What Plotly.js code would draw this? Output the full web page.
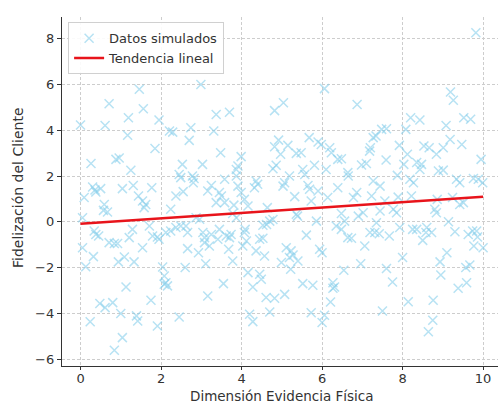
<!DOCTYPE html>
<html>
<head>
<meta charset="utf-8">
<script src="https://cdn.plot.ly/plotly-3.0.1.min.js"></script>
<style>html,body{margin:0;padding:0;background:#fff;}#chart{width:498px;height:404px;}</style>
</head>
<body>
<div id="chart"></div>
<script>
// Simulated data
const simX = [
1.46,2.99,0.71,1.56,1.19,1.95,0.0,0.61,2.21,2.29,2.74,1.17,2.7,1.85,0.26,0.88,0.96,1.25,2.53,3.03,
2.45,2.49,2.78,2.82,2.8,3.16,2.37,2.55,0.3,0.36,0.5,0.38,1.04,1.31,1.77,0.09,0.59,0.57,0.67,1.44,
1.54,1.62,1.58,2.24,0.05,2.87,2.96,
0.34,0.38,0.45,0.05,0.32,0.71,0.84,0.92,1.29,1.21,1.54,0.94,1.09,1.33,0.13,1.71,1.79,1.95,1.91,2.12,
2.24,2.37,2.49,2.66,2.62,2.66,2.93,3.11,2.04,2.08,2.12,2.08,2.16,2.6,3.16,1.13,1.75,0.48,0.61,0.8,
1.0,1.39,1.42,0.24,1.91,2.45,1.04,0.84,
6.06,4.82,5.04,3.37,3.70,3.31,3.48,3.99,3.91,3.87,4.82,4.92,4.97,5.15,5.36,5.48,4.78,4.86,5.19,5.07,
5.03,5.52,5.57,5.81,5.68,5.9,5.98,6.19,6.23,6.39,6.48,6.1,5.65,5.69,5.32,5.9,6.14,6.39,6.64,5.73,
6.48,4.36,4.32,4.4,3.87,3.91,3.99,4.07,4.16,3.58,3.5,3.58,3.45,3.81,4.64,5.36,3.78,3.25,3.37,
3.08,3.2,3.41,3.45,3.62,3.7,3.74,3.68,3.78,4.07,4.12,4.03,4.09,4.36,4.57,4.45,4.53,4.53,4.62,4.7,
4.78,4.16,4.45,4.49,4.28,3.55,4.61,4.82,5.07,4.7,4.2,4.28,4.99,5.22,5.11,5.23,5.28,5.4,5.19,5.61,
5.52,5.77,5.73,5.86,5.94,6.0,5.39,6.06,6.0,6.21,6.27,6.31,6.27,6.54,6.35,6.48,6.56,6.64,3.87,3.04,
3.25,3.08,
9.82,9.19,9.26,6.87,8.2,8.43,9.08,9.52,9.69,9.18,9.47,8.08,7.6,7.48,7.34,7.27,7.2,7.18,7.92,8.12,
8.53,8.66,8.84,9.01,7.59,7.1,6.98,6.65,8.03,8.35,8.47,8.43,8.89,9.01,9.95,7.87,8.18,8.27,7.27,7.44,
9.34,9.42,9.76,9.88,9.99,6.86,6.78,7.23,7.89,8.22,8.86,9.24,7.56,6.9,7.02,7.44,7.77,7.85,8.8,8.84,
9.42,9.51,
7.35,6.73,7.19,7.31,7.42,7.67,7.06,7.93,8.25,8.35,8.5,8.6,8.58,8.72,9.14,9.3,9.63,9.74,9.84,9.86,
9.77,10.0,6.96,7.6,7.75,8.0,8.14,7.5,8.76,8.75,8.64,8.93,9.1,8.95,9.38,9.59,9.57,9.67
];
const simY = [
5.79,6.0,5.16,4.94,4.55,4.45,4.23,4.21,3.97,3.92,4.11,3.78,3.56,3.2,2.55,2.73,2.79,2.25,2.51,2.51,
2.07,1.93,2.0,1.89,1.71,1.35,1.13,1.32,1.52,1.39,1.45,1.3,1.45,1.59,1.49,1.06,0.76,0.5,0.43,1.13,
0.91,0.76,0.62,0.55,0.18,0.18,0.11,
-0.4,-0.55,-0.62,-1.13,-1.52,-0.91,-0.95,-0.95,-0.33,-0.69,-1.13,-1.75,-1.54,-1.75,-1.96,-0.18,-0.62,-0.76,-0.66,-0.47,
-0.4,-0.25,-0.18,-0.47,-0.18,-1.17,-1.35,-1.83,-1.97,-2.37,-2.66,-2.73,-2.8,-2.0,-3.24,-2.85,-3.43,-3.57,-3.75,-3.53,
-4.01,-4.11,-4.33,-4.37,-4.55,-4.16,-5.06,-5.61,
5.82,4.86,5.2,4.69,4.79,3.97,3.02,2.85,2.44,2.29,3.28,3.57,2.95,3.34,2.99,3.02,2.32,2.47,2.0,1.71,
1.56,2.29,2.07,2.47,3.68,3.49,3.38,3.24,3.02,2.73,2.76,2.29,1.59,1.42,1.1,1.35,1.06,1.49,2.15,0.91,
0.36,1.78,1.49,1.64,2.0,1.56,1.28,0.98,0.69,1.86,1.13,0.84,1.28,0.73,0.62,0.33,0.36,1.59,0.84,
-0.69,-1.06,-0.76,-0.33,-0.62,-0.69,-0.55,-1.2,-1.71,-0.47,-0.84,-1.06,-0.33,-1.27,-1.49,-0.76,-0.72,-0.15,-0.12,0.03,
0.1,-2.22,-2.29,-2.51,-2.85,-2.7,-3.31,-3.34,-3.17,-3.94,-4.04,-4.36,-1.78,-2.07,-1.13,-1.27,-1.45,-1.71,-1.56,-0.58,
-2.7,-2.77,-3.97,0.03,-1.2,-1.35,0.25,-4.08,-4.4,-3.5,-2.66,-2.85,-2.9,-2.12,-0.18,-0.33,0.03,-0.69,0.18,-0.47,
-0.55,-0.91,
8.26,5.67,5.31,5.13,4.55,4.45,4.21,4.55,4.48,3.6,3.38,4.04,4.07,4.04,3.75,3.68,3.24,3.09,3.34,2.95,
3.31,3.24,2.95,3.24,2.7,2.55,2.48,2.0,2.51,2.59,2.51,2.29,2.22,2.26,2.73,2.03,1.86,1.71,1.78,1.56,
1.86,1.71,1.89,1.86,1.71,1.28,1.06,1.13,1.08,1.13,0.98,1.06,0.91,0.25,0.4,0.47,0.55,0.4,0.55,0.4,
0.76,0.84,
-0.04,-0.72,-0.47,-0.47,-0.52,-0.62,-1.06,-0.25,-0.33,-0.33,-0.81,-0.25,-0.47,-0.47,0.0,-0.43,-0.55,-0.4,-0.4,-0.66,
-1.06,-1.13,-1.83,-2.04,-2.63,-1.56,-3.49,-3.9,-3.43,-4.3,-4.8,-1.75,-1.35,-2.32,-2.9,-2.66,-2.0,-1.89
];
// Linear trend endpoints
const trendX = [0, 10];
const trendY = [-0.08, 1.1];

const xTicks = [0, 2, 4, 6, 8, 10];
const yTicks = [-6, -4, -2, 0, 2, 4, 6, 8];
const xTitle = 'Dimensión Evidencia Física';
const yTitle = 'Fidelización del Cliente';

const FONT = 'DejaVu Sans, sans-serif';

const traces = [
  {
    x: simX, y: simY, type: 'scatter', mode: 'markers', name: 'Datos simulados',
    marker: {symbol: 'x-thin', size: 9, color: 'rgba(135,206,235,0.6)',
             line: {width: 1.5, color: 'rgba(135,206,235,0.6)'}}
  },
  {
    x: trendX, y: trendY, type: 'scatter', mode: 'lines', name: 'Tendencia lineal',
    line: {color: '#e8141b', width: 2.5}
  }
];

const axisCommon = {
  showline: true, linecolor: '#333', linewidth: 1.2,
  ticks: 'outside', ticklen: 4, tickwidth: 1, tickcolor: '#333',
  showgrid: true, gridcolor: '#cdcdcd', griddash: '3px,2px', gridwidth: 1,
  zeroline: false, mirror: false, automargin: false,
  tickfont: {family: FONT, size: 13, color: '#333'}
};

const layout = {
  width: 498, height: 404,
  margin: {l: 62, r: 0, t: 17, b: 38},
  paper_bgcolor: '#fff', plot_bgcolor: '#fff',
  font: {family: FONT, color: '#333'},
  showlegend: true,
  legend: {
    x: 0.014, y: 0.985, xanchor: 'left', yanchor: 'top',
    bgcolor: 'rgba(255,255,255,0.9)', bordercolor: '#d0d0d0', borderwidth: 1,
    font: {family: FONT, size: 13, color: '#333'},
    tracegroupgap: 0
  },
  xaxis: Object.assign({}, axisCommon, {range: [-0.46, 10.37], tickvals: xTicks,
    ticklen: 3, ticklabelstandoff: -3}),
  yaxis: Object.assign({}, axisCommon, {range: [-6.3, 8.95], tickvals: yTicks}),
  annotations: [
    {text: xTitle, xref: 'x', x: 5, yref: 'paper', y: 0, yshift: -29.5,
     xanchor: 'center', yanchor: 'middle', showarrow: false, borderpad: 0,
     font: {family: FONT, size: 13.5, color: '#333'}},
    {text: yTitle, xref: 'paper', x: 0, xshift: -44, yref: 'paper', y: 0.51,
     xanchor: 'center', yanchor: 'middle', textangle: -90, showarrow: false,
     font: {family: FONT, size: 14, color: '#333'}}
  ]
};

Plotly.newPlot('chart', traces, layout, {displayModeBar: false, staticPlot: true});
</script>
</body>
</html>
